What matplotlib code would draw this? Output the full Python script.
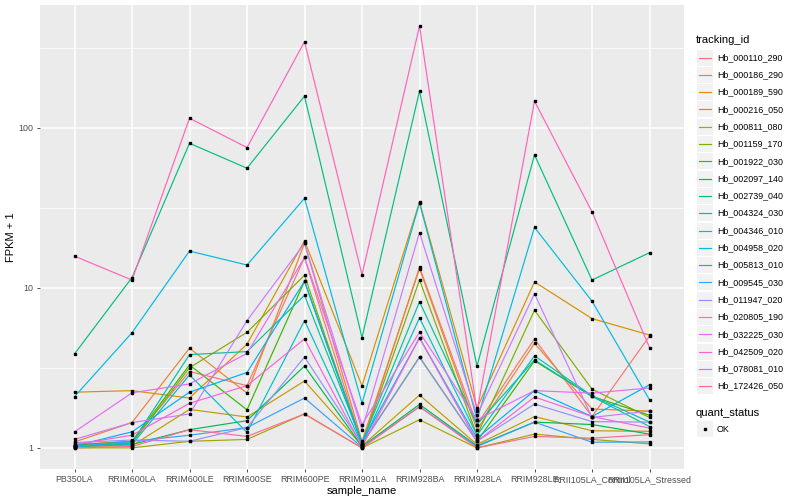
import numpy as np
import matplotlib.pyplot as plt
from matplotlib.patches import Rectangle

plt.rcParams['font.family'] = ['Liberation Sans', 'DejaVu Sans']

# sample order on the x axis
samples = ["PB350LA", "RRIM600LA", "RRIM600LE", "RRIM600SE", "RRIM600PE", "RRIM901LA",
           "RRIM928BA", "RRIM928LA", "RRIM928LE", "RRII105LA_Control", "RRII105LA_Stressed"]

tracking_ids = ["Hb_000110_290", "Hb_000186_290", "Hb_000189_590", "Hb_000216_050",
                "Hb_000811_080", "Hb_001159_170", "Hb_001922_030", "Hb_002097_140",
                "Hb_002739_040", "Hb_004324_030", "Hb_004346_010", "Hb_004958_020",
                "Hb_005813_010", "Hb_009545_030", "Hb_011947_020", "Hb_020805_190",
                "Hb_032225_030", "Hb_042509_020", "Hb_078081_010", "Hb_172426_050"]

# FPKM per sample (y axis shows FPKM + 1)
hb_000110_290 = [0.05, 0.1, 2.0, 1.45, 14.5, 0.05, 12.5, 0.4, 3.8, 0.57, 4.0]
hb_000186_290 = [0.09, 0.44, 3.2, 1.2, 18.0, 0.1, 12.2, 0.3, 3.5, 0.75, 0.7]
hb_000189_590 = [1.23, 1.28, 1.05, 3.45, 18.7, 1.44, 33.5, 0.77, 9.9, 5.43, 4.08]
hb_000216_050 = [0.02, 0.03, 0.74, 0.56, 1.62, 0.03, 1.14, 0.05, 0.57, 0.28, 0.27]
hb_000811_080 = [0.0, 0.0, 0.1, 0.13, 0.63, 0.0, 0.5, 0.0, 0.22, 0.13, 0.06]
hb_001159_170 = [0.03, 0.07, 2.17, 4.28, 11.0, 0.05, 10.2, 0.2, 6.25, 1.33, 0.55]
hb_001922_030 = [0.04, 0.1, 2.3, 0.73, 10.0, 0.06, 2.7, 0.1, 2.5, 1.1, 0.6]
hb_002097_140 = [0.03, 0.05, 0.3, 0.48, 2.25, 0.02, 0.87, 0.03, 0.45, 0.4, 0.22]
hb_002739_040 = [2.87, 10.6, 79.2, 55.0, 157.0, 3.89, 169.0, 2.25, 66.8, 10.2, 15.6]
hb_004324_030 = [0.02, 0.08, 2.83, 3.0, 8.0, 0.08, 7.2, 0.4, 2.55, 1.1, 0.36]
hb_004346_010 = [0.02, 0.05, 1.86, 0.25, 5.25, 0.05, 5.5, 0.2, 2.76, 1.12, 0.45]
hb_004958_020 = [1.09, 4.25, 16.0, 12.9, 35.3, 0.9, 33.0, 0.5, 22.9, 7.26, 1.0]
hb_005813_010 = [0.03, 0.26, 1.23, 1.96, 10.0, 0.08, 3.87, 0.15, 1.28, 0.57, 1.48]
hb_009545_030 = [0.02, 0.1, 0.2, 0.34, 1.05, 0.01, 0.81, 0.02, 0.45, 0.085, 0.09]
hb_011947_020 = [0.08, 0.12, 0.1, 0.34, 2.7, 0.05, 2.68, 0.1, 0.88, 0.46, 0.45]
hb_020805_190 = [0.13, 0.44, 0.63, 5.25, 18.0, 0.3, 21.2, 0.6, 8.2, 0.55, 0.7]
hb_032225_030 = [0.26, 1.21, 1.51, 2.9, 14.5, 0.4, 4.28, 0.5, 1.28, 1.2, 1.37]
hb_042509_020 = [0.05, 0.2, 0.9, 1.45, 3.8, 0.02, 3.87, 0.1, 1.08, 0.57, 0.33]
hb_078081_010 = [14.8, 10.2, 114.0, 74.4, 345.0, 11.1, 432.0, 0.7, 146.0, 28.9, 3.24]
hb_172426_050 = [0.0, 0.02, 0.3, 0.18, 0.63, 0.0, 0.81, 0.0, 0.18, 0.15, 0.21]

series = [hb_000110_290, hb_000186_290, hb_000189_590, hb_000216_050, hb_000811_080,
          hb_001159_170, hb_001922_030, hb_002097_140, hb_002739_040, hb_004324_030,
          hb_004346_010, hb_004958_020, hb_005813_010, hb_009545_030, hb_011947_020,
          hb_020805_190, hb_032225_030, hb_042509_020, hb_078081_010, hb_172426_050]

# ggplot hue_pal() for 20 levels
colors = ["#F8766D", "#EA8331", "#D89000", "#C09B00", "#A3A500", "#7CAE00", "#39B600",
          "#00BB4E", "#00BF7D", "#00C1A3", "#00BFC4", "#00BAE0", "#00B0F6", "#35A2FF",
          "#9590FF", "#C77CFF", "#E76BF3", "#FA62DB", "#FF62BC", "#FF6C91"]

fig = plt.figure(figsize=(8, 5), dpi=100)
ax = fig.add_axes([40/800, 31/500, 644/800, 464/500])
ax.set_facecolor("#EBEBEB")

x = np.arange(len(samples))
for vals, col in zip(series, colors):
    ax.plot(x, np.array(vals) + 1, color=col, lw=0.85, zorder=3)
for vals in series:
    ax.plot(x, np.array(vals) + 1, ls='none', marker='s', ms=2.1, color='black', zorder=4)

ax.set_yscale('log')
allv = np.log10(np.concatenate([np.array(v) + 1 for v in series]))
lo, hi = allv.min(), allv.max()
pad = 0.05 * (hi - lo)
ax.set_ylim(10**(lo - pad), 10**(hi + pad))
ax.set_xlim(-0.6, len(samples) - 0.4)

ax.set_yticks([1, 10, 100])
ax.set_yticklabels(["1", "10", "100"])
ax.yaxis.set_minor_locator(plt.FixedLocator([10**0.5, 10**1.5, 10**2.5]))
ax.yaxis.set_minor_formatter(plt.NullFormatter())
ax.set_xticks(x)
ax.set_xticklabels(samples)

ax.grid(True, which='major', color='white', lw=1.1, zorder=0)
ax.grid(True, which='minor', axis='y', color='white', lw=0.55, zorder=0)
ax.set_axisbelow(True)
for s in ax.spines.values():
    s.set_visible(False)
ax.tick_params(axis='both', which='major', length=2.5, width=0.6, color='#333333',
               labelcolor='#4D4D4D', labelsize=6.4, pad=2)
ax.tick_params(axis='y', which='minor', length=0)

ax.set_xlabel("sample_name", fontsize=8, labelpad=1)
ax.set_ylabel("FPKM + 1", fontsize=8, labelpad=2)

# legend drawn in pixel coordinates
lg = fig.add_axes([0, 0, 1, 1])
lg.set_xlim(0, 800)
lg.set_ylim(500, 0)
lg.axis('off')
lg.text(696, 40, "tracking_id", fontsize=8, va='center', ha='left')
y0 = 57.5
step = 17.3
for i, (name, col) in enumerate(zip(tracking_ids, colors)):
    yc = y0 + i * step
    lg.add_patch(Rectangle((697, yc - 8), 16, 16, facecolor='#F2F2F2', edgecolor='none'))
    lg.plot([699, 711], [yc, yc], color=col, lw=0.85)
    lg.text(717, yc, name, fontsize=6.4, va='center', ha='left')

lg.text(696, 413, "quant_status", fontsize=8, va='center', ha='left')
lg.add_patch(Rectangle((697, 421), 16, 16, facecolor='#F2F2F2', edgecolor='none'))
lg.plot([705], [429], marker='s', ms=2.1, color='black')
lg.text(717, 429, "OK", fontsize=6.4, va='center', ha='left')

fig.savefig("out.png", dpi=100)
